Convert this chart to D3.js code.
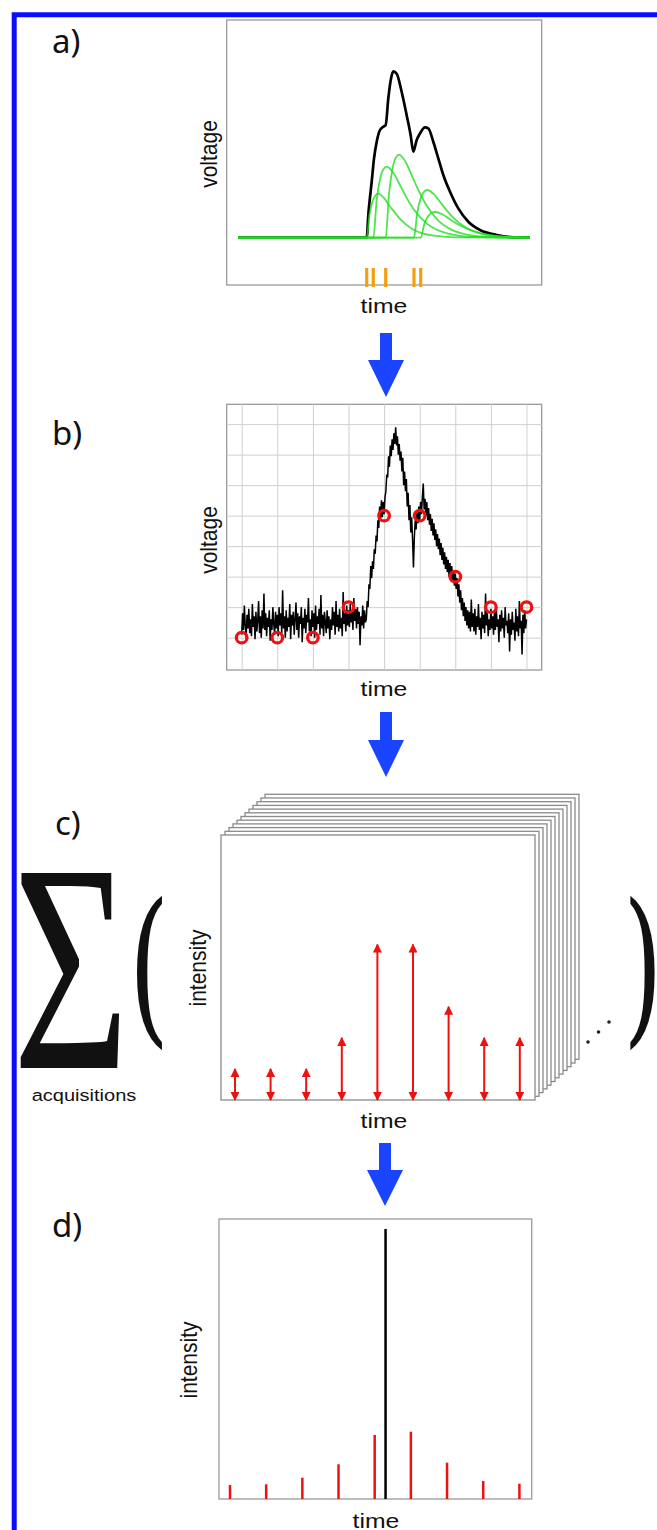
<!DOCTYPE html>
<meta charset="utf-8">
<script src="https://d3js.org/d3.v7.min.js"></script>
<style>
  body { margin: 0; background: #fff; }
  text { font-family: "Liberation Sans", Arial, sans-serif; fill: #111; }
</style>
<div id="fig"></div>
<script>

  // ---------- data ----------
  // a) spike onset times (arbitrary time units) and the single pulses they produce
  var spikeTimes = [140, 146.6, 159, 187.3, 194];
  var pulse1 = [[11.3,0],[140,0],[142.8,23],[145.7,36],[148.5,42],[151.3,44],[157,40],[162.6,32],[168.3,25],[174,18],[185.2,9],[196.5,4],[207.8,2],[230,0.3],[303.3,0]];
  var pulse2 = [[11.3,0],[146.6,0],[150,37.6],[153.3,58.5],[156.7,68.4],[160,71],[166.7,64.6],[173.4,52.3],[180.1,39.6],[186.8,28.8],[200.2,14.1],[213.6,6.5],[227,2.9],[253.8,0.5],[303.3,0]];
  var pulse3 = [[11.3,0],[159,0],[162.3,43.9],[165.7,68.4],[169,79.9],[172.3,83],[179,75.5],[185.6,61.1],[192.3,46.3],[198.9,33.7],[212.2,16.5],[225.5,7.6],[238.8,3.4],[265.4,0.6],[303.3,0]];
  var pulse4 = [[11.3,0],[187.3,0],[190.6,25.2],[194,39.3],[197.3,45.9],[200.6,47.7],[207.3,43.4],[213.9,35.1],[220.6,26.6],[227.2,19.4],[240.5,9.5],[253.8,4.4],[267.1,1.9],[293.7,0.3],[303.3,0]];
  var pulse5 = [[11.3,0],[194,0],[197.6,13.6],[201.2,21.2],[204.7,24.7],[208.3,25.7],[215.5,23.4],[222.6,18.9],[229.8,14.3],[236.9,10.4],[251.2,5.1],[265.5,2.4],[279.8,1],[303.3,0]];
  var pulses = [pulse1, pulse2, pulse3, pulse4, pulse5];
  var voltageSum = [[11.3,0],[140,0],[141.6,22.7],[145,56],[147.3,79],[150,96],[153.3,107.7],[156.6,111],[159,112.7],[161.6,139.3],[164.3,159],[166.6,166.3],[170,164],[175,145.7],[180,122.3],[184,102.3],[186.6,86],[190,97.7],[193.3,104.3],[198.3,110.3],[201.6,109.3],[206.6,96],[211.6,79.3],[216.6,62.7],[223.3,46],[231.6,29.3],[241.6,16],[253.3,7.7],[270,2.7],[286.6,0.3],[303.3,0]];

  // b) digitised noisy voltage, one value every 0.025 time units from 0 to 8
  var noisyVoltage = [
    1.1,1.8,1.25,2.05,1.4,1.0,1.75,1.3,1.95,1.15,
    1.6,1.05,2.1,1.35,1.7,0.95,1.85,1.2,1.55,2.2,
    1.15,1.7,1.0,1.9,1.3,2.45,1.25,1.8,1.05,1.65,
    1.35,1.9,0.9,1.6,1.25,2.0,1.45,1.1,1.85,1.3,
    1.75,1.05,2.0,1.4,1.8,1.15,2.55,1.3,1.7,1.0,
    1.9,1.2,1.65,1.35,2.1,0.95,1.75,1.4,1.85,1.1,
    1.6,2.15,1.25,1.8,1.0,1.7,1.45,2.0,0.85,1.65,
    1.3,1.95,1.15,1.75,1.5,2.3,1.2,1.6,1.05,1.9,
    1.35,1.8,1.0,2.05,1.25,1.7,1.45,1.95,1.1,2.4,
    1.3,1.75,1.05,1.85,1.5,1.15,1.9,1.3,1.7,0.95,
    1.6,1.25,2.0,1.4,1.85,1.1,2.2,1.35,1.75,1.2,
    1.95,1.3,1.65,1.05,2.5,1.45,1.8,1.2,2.05,1.4,
    1.9,1.35,2.1,1.5,1.85,1.25,2.3,1.55,1.95,1.3,
    2.0,1.45,1.85,0.75,1.7,1.4,2.05,1.3,1.9,1.5,
    1.6,2.2,2.0,2.75,2.6,3.35,2.95,3.5,3.25,3.9,
    3.75,4.35,4.15,4.85,4.6,5.3,4.85,5.5,4.95,5.45,
    5.05,5.6,5.8,6.35,6.25,6.95,6.6,7.3,6.95,7.5,
    7.15,7.7,7.35,7.9,7.3,7.6,7.0,7.35,6.8,7.1,
    6.45,6.9,6.0,6.45,5.8,6.2,5.3,5.75,4.85,5.35,
    4.45,4.95,4.2,3.3,4.3,4.85,4.55,5.1,4.75,5.3,
    4.85,5.45,5.05,5.6,6.05,5.2,5.55,5.0,5.45,4.85,
    5.25,4.7,5.05,4.5,4.9,4.35,4.75,4.2,4.55,4.0,
    4.4,3.9,4.25,3.7,4.1,3.55,3.95,3.4,3.8,3.25,
    3.65,3.15,3.55,3.0,3.45,2.9,3.35,2.85,3.2,2.7,
    3.1,2.6,2.95,2.35,2.75,2.15,2.55,1.9,2.3,1.7,
    2.15,1.55,2.0,1.4,1.9,1.3,1.85,1.2,2.25,1.35,
    1.8,1.2,1.95,1.1,1.7,1.35,2.1,1.25,1.65,0.95,
    1.85,1.3,1.75,1.15,2.45,1.4,1.8,1.05,1.6,1.25,
    1.95,1.3,1.7,1.1,1.85,1.25,2.05,1.35,1.6,0.85,
    1.75,1.2,1.9,1.3,1.65,1.0,2.0,1.4,1.55,1.15,
    1.8,0.55,1.6,1.1,1.85,1.25,1.5,0.9,1.95,1.2,
    1.7,1.05,2.2,1.3,1.55,0.45,1.75,1.15,1.9,1.3,
    1.6
  ];
  var noiseStep = 0.025;
  var sampleTimes = [0, 1, 2, 3, 4, 5, 6, 7, 8];
  var sampleLevels = [1, 1, 1, 2, 5, 5, 3, 2, 2];
  var gridLevels = [1, 2, 3, 4, 5, 6, 7, 8];

  // c) one acquisition: intensities at the sample times
  var acqIntensity = [1, 1, 1, 2, 5, 5, 3, 2, 2];
  var acqLayers = 11;

  // d) summed over acquisitions
  var sumIntensity = [14, 14.7, 21.3, 34.7, 64, 67.3, 36.3, 18, 15.3];
  var peakTime = 4.3, peakIntensity = 270;

  // ---------- drawing ----------
  var W = 657, H = 1530, SX = 1.18;

  var svg = d3.select("#fig").append("svg")
      .attr("width", W).attr("height", H);
  svg.append("rect").attr("width", W).attr("height", H).attr("fill", "#fff");

  // blue frame (open to right and bottom)
  svg.append("path")
      .attr("d", "M14.2," + H + " V14.8 H" + W)
      .attr("fill", "none").attr("stroke", "#0c0cff").attr("stroke-width", 5);

  function label(x, y, s, size, rot) {
    svg.append("text")
      .attr("transform", "translate(" + x + "," + y + ") scale(" + SX + ",1)" + (rot ? " rotate(-90)" : ""))
      .attr("text-anchor", "middle")
      .style("font-size", size + "px")
      .text(s);
  }
  function panelLabel(x, y, s) {
    svg.append("text").attr("x", x).attr("y", y)
      .style("font-family", "'Noto Sans', 'Open Sans', sans-serif")
      .style("font-size", "33px")
      .text(s);
  }
  function box(x, y, w, h, col) {
    svg.append("rect").attr("x", x).attr("y", y).attr("width", w).attr("height", h)
      .attr("fill", "#fff").attr("stroke", col || "#9a9a9a").attr("stroke-width", 1.3);
  }
  function blueArrow(cx, top, headTop, tip) {
    svg.append("path")
      .attr("d", "M" + (cx - 6) + "," + top + " H" + (cx + 6) + " V" + headTop +
                 " H" + (cx + 18) + " L" + cx + "," + tip + " L" + (cx - 18) + "," + headTop +
                 " H" + (cx - 6) + " Z")
      .attr("fill", "#1a44ff");
  }

  // ---- a) ----
  var ax = d3.scaleLinear().domain([0, 315]).range([226.7, 541.7]);
  var ay = d3.scaleLinear().domain([-47.3, 217.7]).range([285, 20]);
  box(226.7, 20, 315, 265);
  var lineA = d3.line().x(function(d){ return ax(d[0]); }).y(function(d){ return ay(d[1]); })
      .curve(d3.curveMonotoneX);
  svg.append("path").datum(voltageSum).attr("d", lineA)
      .attr("fill", "none").attr("stroke", "#000").attr("stroke-width", 2.7);
  svg.selectAll(".pulse").data(pulses).enter().append("path")
      .attr("class", "pulse").attr("d", lineA)
      .attr("fill", "none").attr("stroke", "#22dd22").attr("stroke-opacity", 0.8).attr("stroke-width", 1.8);
  svg.selectAll(".spike").data(spikeTimes).enter().append("line")
      .attr("class", "spike")
      .attr("x1", function(d){ return ax(d); }).attr("x2", function(d){ return ax(d); })
      .attr("y1", 268).attr("y2", 287)
      .attr("stroke", "#f2a012").attr("stroke-width", 3.2);
  label(384, 313, "time", 21);
  label(217, 154, "voltage", 21, true);
  panelLabel(52, 53, "a)");

  blueArrow(386, 333, 360, 397);

  // ---- b) ----
  var bx = d3.scaleLinear().domain([-0.421, 8.427]).range([226.7, 541.7]);
  var by = d3.scaleLinear().domain([-0.06, 8.65]).range([670, 404.3]);
  box(226.7, 404.3, 315, 265.7);
  var gridX = svg.append("g").attr("transform", "translate(0,670)")
      .call(d3.axisBottom(bx).tickValues(sampleTimes).tickSize(-265.7).tickFormat(""));
  var gridY = svg.append("g").attr("transform", "translate(226.7,0)")
      .call(d3.axisLeft(by).tickValues(gridLevels).tickSize(-315).tickFormat(""));
  [gridX, gridY].forEach(function(g) {
    g.select(".domain").remove();
    g.selectAll(".tick line").attr("stroke", "#cfcfcf").attr("stroke-width", 1);
  });
  var traceLine = d3.line()
      .x(function(d, i){ return bx(i * noiseStep); })
      .y(function(d){ return by(d); });
  svg.append("path").datum(noisyVoltage).attr("d", traceLine)
      .attr("fill", "none").attr("stroke", "#000").attr("stroke-width", 1.5);
  svg.selectAll(".sample").data(sampleTimes).enter().append("circle")
      .attr("class", "sample")
      .attr("cx", function(d){ return bx(d); })
      .attr("cy", function(d, i){ return by(sampleLevels[i]); })
      .attr("r", 5.3)
      .attr("fill", "none").attr("stroke", "#ee1111").attr("stroke-width", 3.3);
  label(384, 696, "time", 21);
  label(217, 540, "voltage", 21, true);
  panelLabel(52, 445, "b)");

  blueArrow(386, 712, 740, 777);

  // ---- c) ----
  var cx = d3.scaleLinear().domain([-0.393, 8.427]).range([221, 535]);
  var cy = d3.scaleLinear().domain([0, 8.52]).range([1100, 835]);
  d3.range(acqLayers, 0, -1).forEach(function(k) {
    box(221 + 4 * k, 835 - 3.7 * k, 314, 265, "#8a8a8a");
  });
  box(221, 835, 314, 265, "#8a8a8a");

  var defs = svg.append("defs");
  defs.append("marker").attr("id", "head")
      .attr("viewBox", "0 0 10 10").attr("refX", 9).attr("refY", 5)
      .attr("markerUnits", "userSpaceOnUse")
      .attr("markerWidth", 9).attr("markerHeight", 9)
      .attr("orient", "auto-start-reverse")
    .append("path").attr("d", "M0,0 L10,5 L0,10 Z").attr("fill", "#ee1111");
  svg.selectAll(".acq").data(acqIntensity).enter().append("line")
      .attr("class", "acq")
      .attr("x1", function(d, i){ return cx(sampleTimes[i]); })
      .attr("x2", function(d, i){ return cx(sampleTimes[i]); })
      .attr("y1", cy(0)).attr("y2", function(d){ return cy(d); })
      .attr("stroke", "#ee1111").attr("stroke-width", 2)
      .attr("marker-start", "url(#head)").attr("marker-end", "url(#head)");

  svg.selectAll(".dots").data([0, 1, 2]).enter().append("circle")
      .attr("cx", function(d){ return 588 + 10.5 * d; })
      .attr("cy", function(d){ return 1042 - 10 * d; })
      .attr("r", 1.8).attr("fill", "#222");

  label(384, 1128, "time", 21);
  label(206, 968, "intensity", 21, true);
  label(84, 1101, "acquisitions", 17);
  panelLabel(55, 835, "c)");

  // big summation sign and brackets
  svg.append("text")
      .attr("transform", "translate(71,1068) scale(0.67,1)")
      .attr("text-anchor", "middle")
      .style("font-family", "'Liberation Serif', serif")
      .style("font-size", "298px")
      .text("Σ");
  svg.append("text")
      .attr("transform", "translate(149,1024) scale(0.62,1)")
      .attr("text-anchor", "middle")
      .style("font-family", "'DejaVu Serif', serif")
      .style("font-size", "168px")
      .text("(");
  svg.append("text")
      .attr("transform", "translate(643,1024) scale(0.6,1)")
      .attr("text-anchor", "middle")
      .style("font-family", "'DejaVu Serif', serif")
      .style("font-size", "168px")
      .text(")");

  blueArrow(385, 1143, 1170, 1206);

  // ---- d) ----
  var dx = d3.scaleLinear().domain([-0.304, 8.34]).range([219, 531.7]);
  var dy = d3.scaleLinear().domain([0, 280]).range([1499, 1219]);
  box(219, 1219, 312.7, 280);
  svg.selectAll(".sum").data(sumIntensity).enter().append("line")
      .attr("class", "sum")
      .attr("x1", function(d, i){ return dx(sampleTimes[i]); })
      .attr("x2", function(d, i){ return dx(sampleTimes[i]); })
      .attr("y1", dy(0)).attr("y2", function(d){ return dy(d); })
      .attr("stroke", "#ee1111").attr("stroke-width", 2.5);
  svg.append("line")
      .attr("x1", dx(peakTime)).attr("x2", dx(peakTime))
      .attr("y1", dy(0)).attr("y2", dy(peakIntensity))
      .attr("stroke", "#000").attr("stroke-width", 2.5);
  label(376, 1528, "time", 21);
  label(197, 1360, "intensity", 21, true);
  panelLabel(52, 1237, "d)");

</script>
